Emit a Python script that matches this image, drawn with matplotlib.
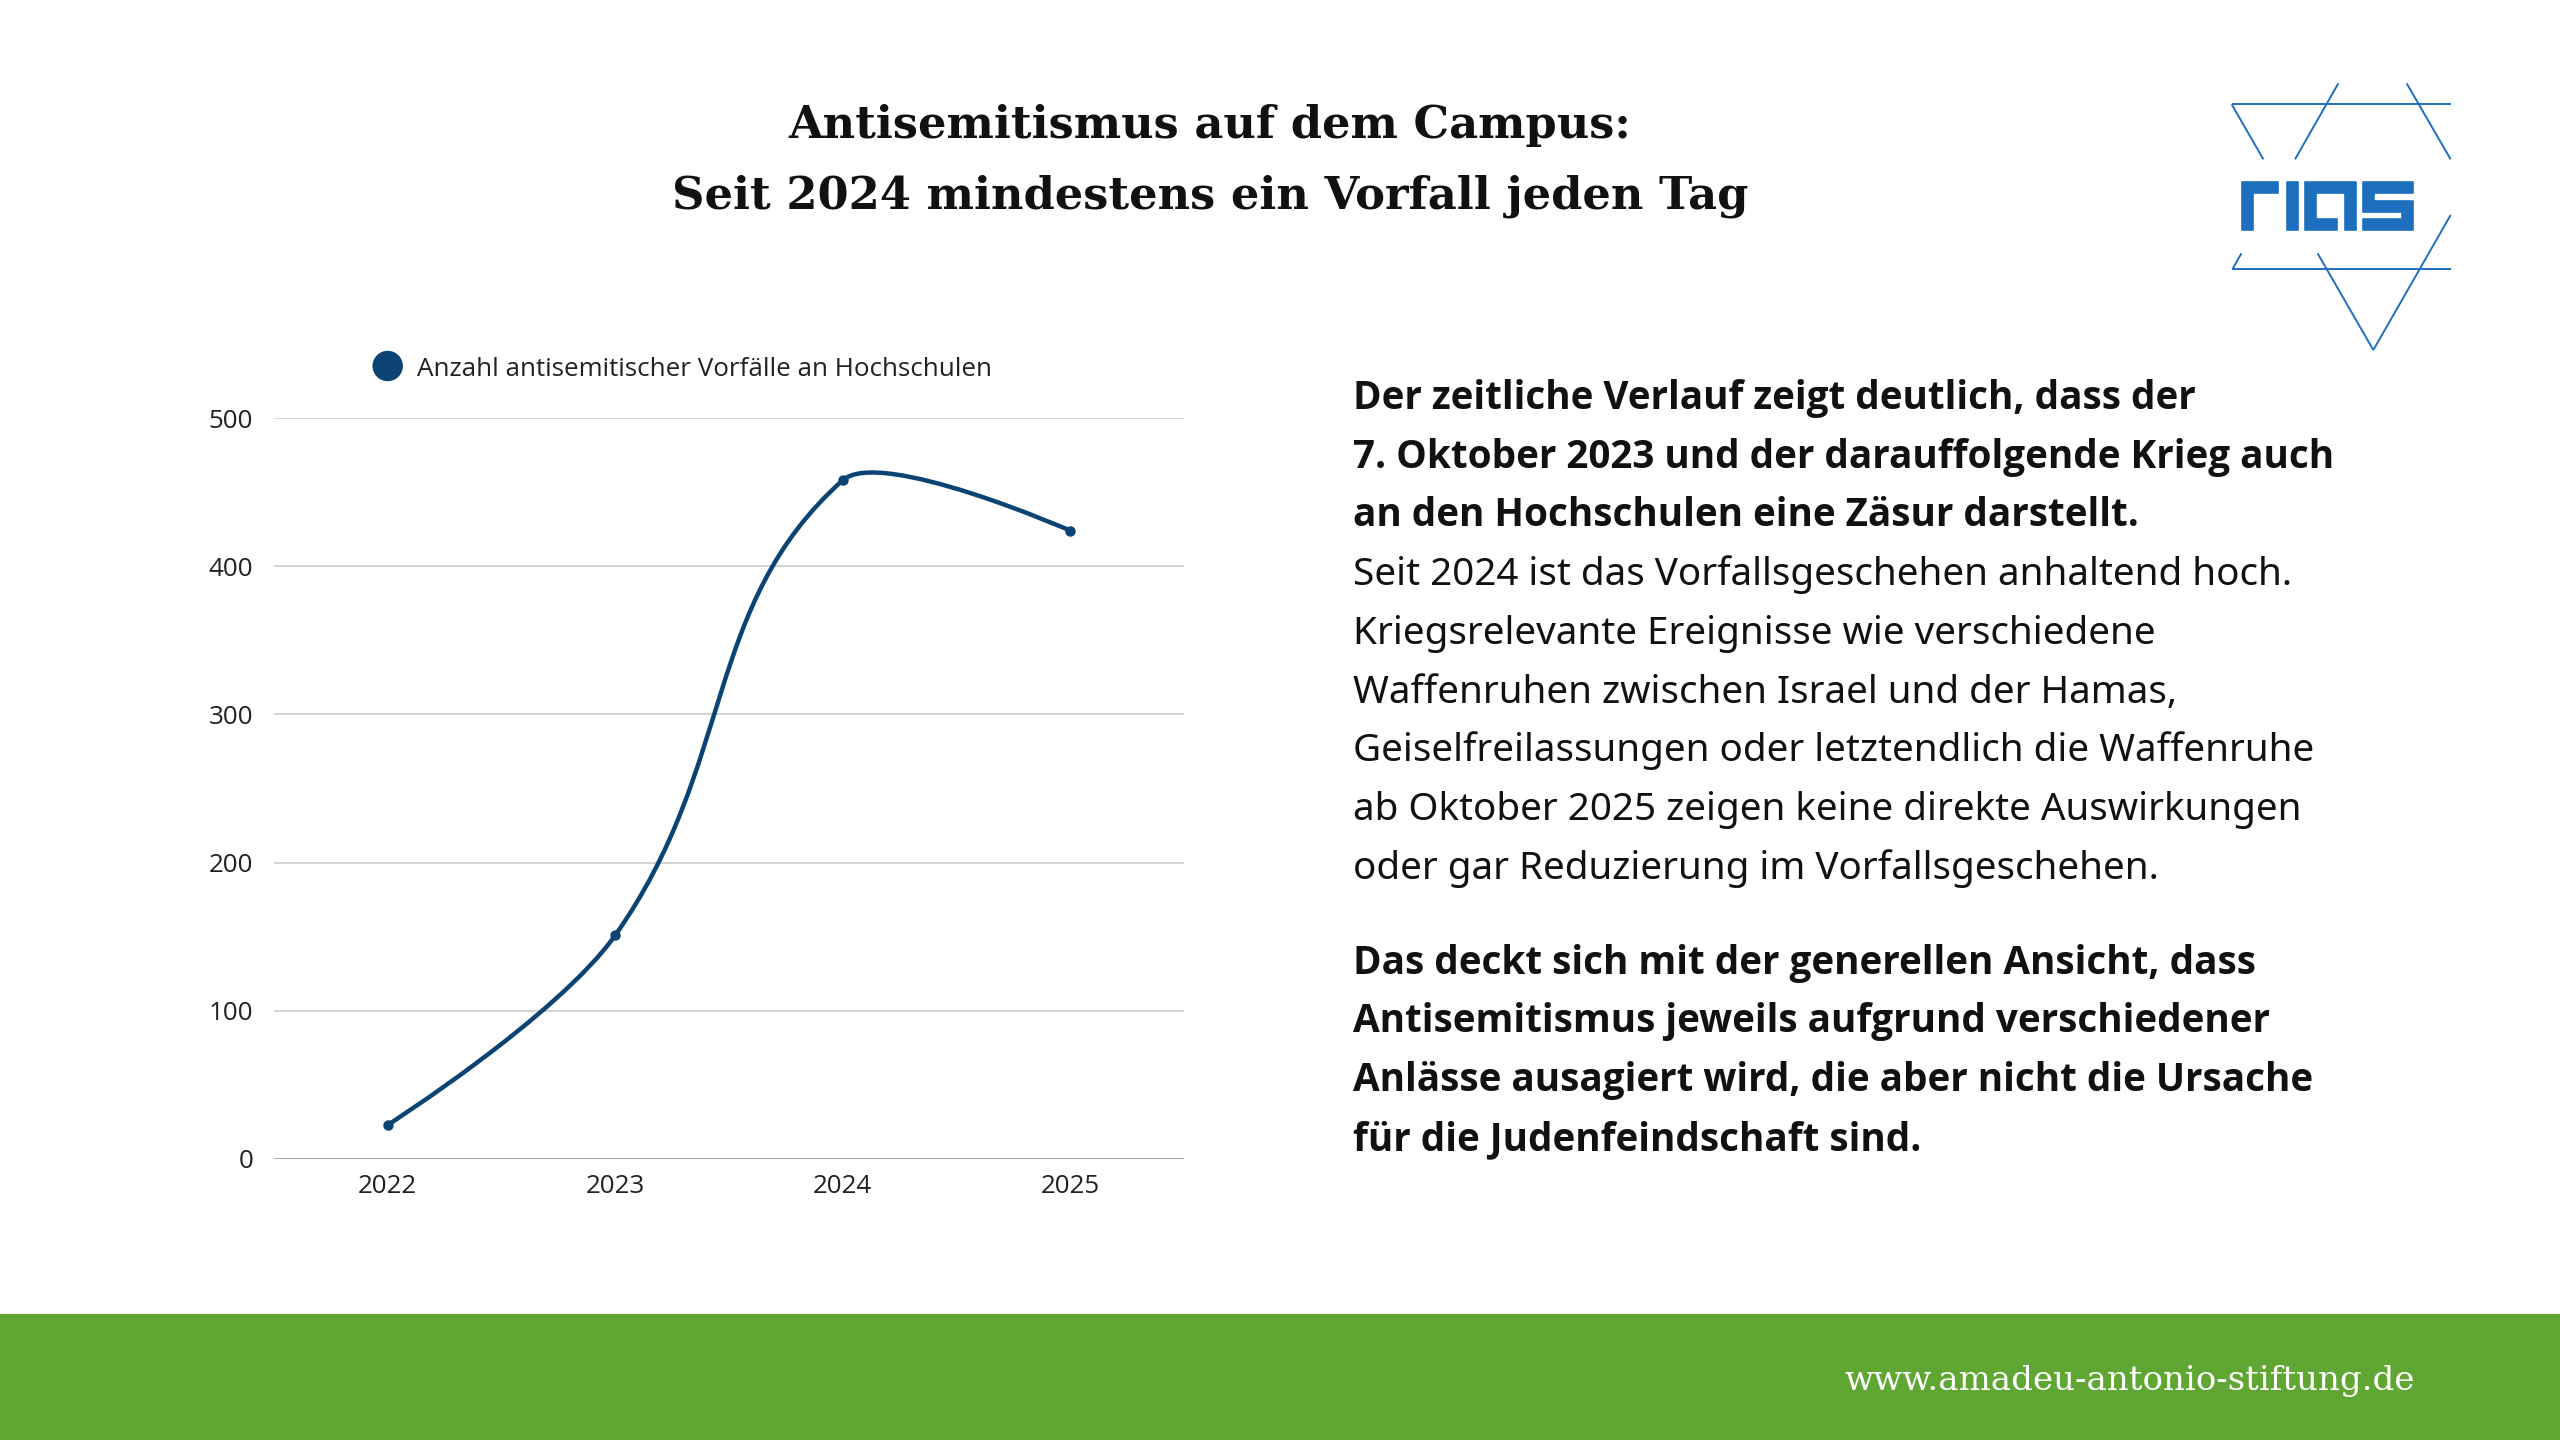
import matplotlib
matplotlib.use("Agg")
import matplotlib.pyplot as plt
from matplotlib.path import Path
from matplotlib.patches import PathPatch, Rectangle, Polygon, Circle
from matplotlib import font_manager
import numpy as np

# ---------------- data ----------------
years = ["2022", "2023", "2024", "2025"]
incidents = [23, 151, 458, 424]
series_label = "Anzahl antisemitischer Vorfälle an Hochschulen"
y_ticks = [0, 100, 200, 300, 400, 500]

title_lines = ["Antisemitismus auf dem Campus:",
               "Seit 2024 mindestens ein Vorfall jeden Tag"]
para1_bold = ["Der zeitliche Verlauf zeigt deutlich, dass der",
              "7. Oktober 2023 und der darauffolgende Krieg auch",
              "an den Hochschulen eine Zäsur darstellt."]
para1_regular = ["Seit 2024 ist das Vorfallsgeschehen anhaltend hoch.",
                 "Kriegsrelevante Ereignisse wie verschiedene",
                 "Waffenruhen zwischen Israel und der Hamas,",
                 "Geiselfreilassungen oder letztendlich die Waffenruhe",
                 "ab Oktober 2025 zeigen keine direkte Auswirkungen",
                 "oder gar Reduzierung im Vorfallsgeschehen."]
para2_bold = ["Das deckt sich mit der generellen Ansicht, dass",
              "Antisemitismus jeweils aufgrund verschiedener",
              "Anlässe ausagiert wird, die aber nicht die Ursache",
              "für die Judenfeindschaft sind."]
footer_text = "www.amadeu-antonio-stiftung.de"

# ---------------- fonts ----------------
def _w(f):
    w = f.weight
    if isinstance(w, str):
        w = font_manager.weight_dict.get(w, 400)
    return w


fl = font_manager.fontManager.ttflist
has_noto_bold = any(f.name == "Noto Sans" and _w(f) >= 600 for f in fl)
BOLD_FAMILY = "Noto Sans" if has_noto_bold else "Open Sans"
BOLD_WEIGHT = "bold"

# ---------------- style ----------------
W, H = 2560, 1440
NAVY = "#0b4373"
GREEN = "#5fa632"
LOGO_BLUE = "#1f6fbf"
TEXT = "#111111"

fig = plt.figure(figsize=(W / 100, H / 100), dpi=100)
fig.patch.set_facecolor("white")
renderer = fig.canvas.get_renderer()


def fx(x):
    return x / W


def fy(y):
    return 1 - y / H


def fit_width(t, target):
    bb = t.get_window_extent(renderer)
    t.set_fontsize(t.get_fontsize() * target / bb.width)
    return t


# ---------------- title ----------------
tkw = dict(ha="center", va="baseline", fontsize=38, fontweight="bold",
           family="DejaVu Serif", color=TEXT)
t1 = fig.text(fx(1210), fy(138), title_lines[0], **tkw)
t2 = fig.text(fx(1210), fy(208), title_lines[1], **tkw)
fit_width(t2, 1075)
t1.set_fontsize(t2.get_fontsize())

# ---------------- body text ----------------
x_body = 1353
base0 = 409
step = 58.75
ref = fig.text(0, 0, para1_regular[3], fontsize=30, family="Noto Sans")
fit_width(ref, 960)
body_fs = ref.get_fontsize()
ref.remove()

lines = [(s, True) for s in para1_bold] + [(s, False) for s in para1_regular]
for i, (s, b) in enumerate(lines):
    fig.text(fx(x_body), fy(base0 + i * step), s, ha="left", va="baseline",
             fontsize=body_fs, fontweight=BOLD_WEIGHT if b else "normal",
             family=BOLD_FAMILY if b else "Noto Sans", color=TEXT)
base2 = base0 + 8 * step + 94.7
for i, s in enumerate(para2_bold):
    fig.text(fx(x_body), fy(base2 + i * step), s, ha="left", va="baseline",
             fontsize=body_fs, fontweight=BOLD_WEIGHT, family=BOLD_FAMILY, color=TEXT)

# ---------------- chart ----------------
ax_l, ax_r, ax_t, ax_b = 274, 1184, 418, 1159
ax = fig.add_axes([fx(ax_l), fy(ax_b), fx(ax_r - ax_l), (ax_b - ax_t) / H])
ax.set_xlim(-0.5, len(years) - 0.5)
ax.set_ylim(0, 500)
for s in ax.spines.values():
    s.set_visible(False)
ax.set_yticks(y_ticks)
ax.set_yticklabels([str(v) for v in y_ticks])
ax.set_xticks(range(len(years)))
ax.set_xticklabels(years)
ax.tick_params(axis="both", length=0, labelsize=18.7, labelcolor="#222222")
ax.tick_params(axis="y", pad=15)
ax.tick_params(axis="x", pad=11)
for lab in ax.get_xticklabels() + ax.get_yticklabels():
    lab.set_family("Open Sans")
for v in y_ticks:
    ax.axhline(v, color="#a6a6a6" if v == 0 else "#d3d3d3", lw=1.4, zorder=1)

# smooth line (spline with distance-weighted control points)
xs = np.arange(len(incidents), dtype=float)
ys = np.array(incidents, dtype=float)
tension = 0.39
aspect = 0.01306  # y-weight relative to x in the distance metric
n = len(xs)


def dist(i, j):
    return np.hypot(xs[j] - xs[i], (ys[j] - ys[i]) * aspect)


prev_c = [None] * n
next_c = [None] * n
for i in range(n):
    if i == 0 or i == n - 1:
        prev_c[i] = (xs[i], ys[i])
        next_c[i] = (xs[i], ys[i])
        continue
    d01 = dist(i - 1, i)
    d12 = dist(i, i + 1)
    s01 = d01 / (d01 + d12)
    s12 = d12 / (d01 + d12)
    dx = xs[i + 1] - xs[i - 1]
    dy = ys[i + 1] - ys[i - 1]
    prev_c[i] = (xs[i] - tension * s01 * dx, ys[i] - tension * s01 * dy)
    next_c[i] = (xs[i] + tension * s12 * dx, ys[i] + tension * s12 * dy)

verts = [(xs[0], ys[0])]
codes = [Path.MOVETO]
for i in range(n - 1):
    verts += [next_c[i], prev_c[i + 1], (xs[i + 1], ys[i + 1])]
    codes += [Path.CURVE4] * 3
ax.add_patch(PathPatch(Path(verts, codes), fill=False, edgecolor=NAVY, lw=3.2,
                       capstyle="round", joinstyle="round", zorder=3))
ax.plot(xs, ys, "o", color=NAVY, markersize=6.5, zorder=4, clip_on=False)

# legend
fig.patches.append(Circle((387.7, H - 366), 14.5, transform=None, color=NAVY, zorder=5))
fig.text(fx(417), fy(366), series_label, ha="left", va="center_baseline",
         fontsize=18.7, family="Open Sans", color="#222222")

# ---------------- footer ----------------
fig.patches.append(Rectangle((0, 0), 1, 1 - 1314 / H, transform=fig.transFigure,
                             facecolor=GREEN, edgecolor="none", zorder=0))
ft = fig.text(fx(2415), fy(1390), footer_text, ha="right", va="baseline",
              fontsize=26, family="DejaVu Serif", color="white")
fit_width(ft, 569)

# ---------------- logo ----------------
lax = fig.add_axes([0, 0, 1, 1], zorder=6)
lax.set_xlim(0, W)
lax.set_ylim(H, 0)
lax.axis("off")


def Z(zx, zy):
    return 2200 + zx / 3, 60 + zy / 3


def seg(p, q):
    (x0, y0), (x1, y1) = Z(*p), Z(*q)
    lax.plot([x0, x1], [y0, y1], color=LOGO_BLUE, lw=1.4, solid_capstyle="butt")


def on_line(a, b, zy):
    (ax0, ay0), (bx0, by0) = a, b
    t = (zy - ay0) / (by0 - ay0)
    return (ax0 + t * (bx0 - ax0), zy)


seg((95, 133), (752, 133))
seg((95, 628), (752, 628))
ul_a, ul_b = (415, 70), (97, 628)
seg(ul_a, on_line(ul_a, ul_b, 298))
seg(on_line(ul_a, ul_b, 580), ul_b)
seg((620, 70), (752, 298))
dl_a, dl_b = (95, 133), (520, 870)
seg(dl_a, on_line(dl_a, dl_b, 298))
seg(on_line(dl_a, dl_b, 580), dl_b)
seg((752, 465), (520, 870))

# block letters "rias"
y0, y1, sw = 182.0, 230.0, 11.0
letters = [
    # r
    [(2241.7, y1), (2241.7, y0), (2278.3, y0), (2278.3, y0 + sw),
     (2241.7 + sw, y0 + sw), (2241.7 + sw, y1)],
    # i
    [(2287, y1), (2287, y0), (2298, y0), (2298, y1)],
    # a
    [(2356, y1), (2356, y0), (2305, y0), (2305, y1), (2336.7, y1), (2336.7, y1 - sw),
     (2305 + sw, y1 - sw), (2305 + sw, y0 + sw), (2356 - sw, y0 + sw), (2356 - sw, y1)],
    # s
    [(2413, y0), (2363, y0), (2363, 211.5), (2413 - sw, 211.5), (2413 - sw, 219),
     (2363, 219), (2363, y1), (2413, y1), (2413, 200.5), (2363 + sw, 200.5),
     (2363 + sw, y0 + sw), (2413, y0 + sw)],
]
for poly in letters:
    lax.add_patch(Polygon(poly, closed=True, facecolor=LOGO_BLUE, edgecolor=LOGO_BLUE,
                          lw=1.2, joinstyle="round"))

fig.savefig("out.png", dpi=100, facecolor="white")
